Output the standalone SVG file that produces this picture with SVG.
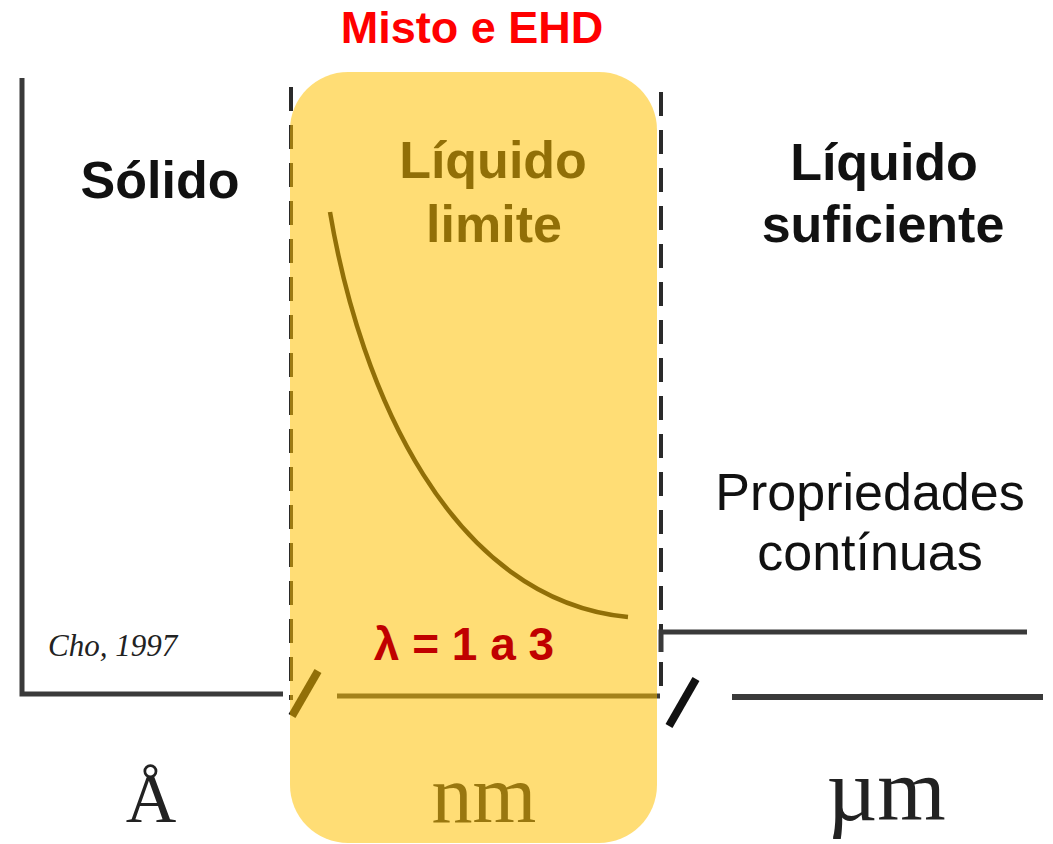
<svg xmlns="http://www.w3.org/2000/svg" width="1053" height="844" viewBox="0 0 1053 844">
<style>
.lbl{font-family:"Liberation Sans",Arial,sans-serif;font-size:52px;fill:#111;text-anchor:middle}
.b{font-weight:bold}
.unit{font-family:"Liberation Serif","Times New Roman",serif;fill:#222;text-anchor:middle}
.ax{stroke:#3a3a3a;fill:none}
.dash{stroke:#2a2a2a;stroke-width:4;stroke-dasharray:24 14;fill:none}
.slash{stroke:#111;stroke-width:8;stroke-linecap:butt}
</style>
<rect width="1053" height="844" fill="#ffffff"/>
<g id="connectors">
  <path class="ax" stroke-width="5" d="M22,78 V694 H283"/>
  <line class="dash" x1="291" y1="87" x2="291" y2="700"/>
  <line class="dash" x1="661" y1="92" x2="661" y2="700"/>
  <path class="ax" stroke-width="5" d="M661,652 V632 H1027"/>
  <line class="ax" stroke-width="5" x1="337" y1="696" x2="660" y2="696"/>
  <line class="ax" stroke-width="6" x1="732" y1="697" x2="1043" y2="697"/>
  <line class="slash" x1="292" y1="716" x2="318" y2="671"/>
  <line class="slash" x1="669" y1="726" x2="696" y2="679"/>
  <path d="M330,212 C360,390 450,600 628,617" stroke="#111" stroke-width="4.5" fill="none"/>
</g>
<g id="solido"><text class="lbl b" x="160" y="198">Sólido</text></g>
<g id="liquido-limite"><text class="lbl b" x="493" y="178">Líquido</text><text class="lbl b" x="494" y="242">limite</text></g>
<g id="liquido-suficiente"><text class="lbl b" x="884" y="180">Líquido</text><text class="lbl b" x="883" y="242">suficiente</text></g>
<g id="propriedades"><text class="lbl" x="870" y="510">Propriedades</text><text class="lbl" x="870" y="570">contínuas</text></g>
<g id="cho"><text x="48" y="656" font-family="'Liberation Serif','Times New Roman',serif" font-style="italic" font-size="31" fill="#222">Cho, 1997</text></g>
<g id="units"><text class="unit" x="151" y="822" font-size="70">Å</text><text class="unit" x="484" y="822" font-size="82" fill="#555">nm</text><text class="unit" x="886" y="820" font-size="88">µm</text></g>
<g id="misto-box"><rect x="290" y="72" width="367" height="771" rx="58" ry="58" fill="#FFC000" fill-opacity="0.54"/></g>
<g id="title"><text x="472" y="43" font-family="'Liberation Sans',Arial,sans-serif" font-weight="bold" font-size="45" fill="#FF0000" text-anchor="middle">Misto e EHD</text></g>
<g id="lambda"><text x="464" y="660" font-family="'Liberation Sans',Arial,sans-serif" font-weight="bold" font-size="46" fill="#C00000" text-anchor="middle">λ = 1 a 3</text></g>
</svg>
